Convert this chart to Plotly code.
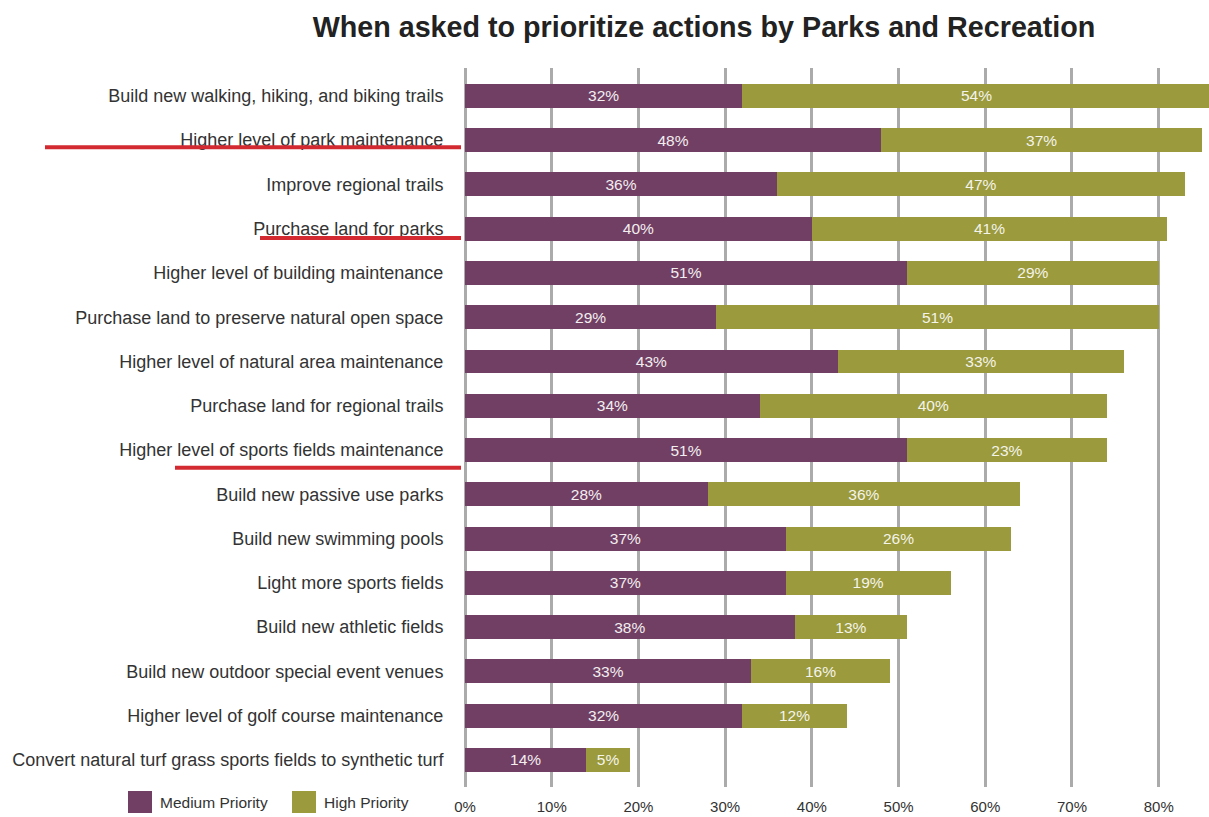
import plotly.graph_objects as go

categories = [
    "Build new walking, hiking, and biking trails",
    "Higher level of park maintenance",
    "Improve regional trails",
    "Purchase land for parks",
    "Higher level of building maintenance",
    "Purchase land to preserve natural open space",
    "Higher level of natural area maintenance",
    "Purchase land for regional trails",
    "Higher level of sports fields maintenance",
    "Build new passive use parks",
    "Build new swimming pools",
    "Light more sports fields",
    "Build new athletic fields",
    "Build new outdoor special event venues",
    "Higher level of golf course maintenance",
    "Convert natural turf grass sports fields to synthetic turf",
]
medium = [32, 48, 36, 40, 51, 29, 43, 34, 51, 28, 37, 37, 38, 33, 32, 14]
high = [54, 37, 47, 41, 29, 51, 33, 40, 23, 36, 26, 19, 13, 16, 12, 5]
tick_vals = [0, 10, 20, 30, 40, 50, 60, 70, 80]
tick_text = ["0%", "10%", "20%", "30%", "40%", "50%", "60%", "70%", "80%"]
underlined = [
    ("Higher level of park maintenance", 45, 0.16),
    ("Purchase land for parks", 260, 0.21),
    ("Higher level of sports fields maintenance", 175, 0.40),
]

PURPLE = "#713F63"
OLIVE = "#9B9A3C"
FONT = "Liberation Sans, Arial, sans-serif"

W, H = 1209, 817
L, R, T, B = 465, 0, 68, 30

fig = go.Figure()
fig.add_trace(go.Bar(
    y=categories, x=medium, orientation="h", name="Medium Priority",
    marker=dict(color=PURPLE, line=dict(width=0)),
    text=[f"{v}%" for v in medium], textposition="inside",
    insidetextanchor="middle", textangle=0,
    textfont=dict(color="#F2EEF0", size=15.5, family=FONT),
))
fig.add_trace(go.Bar(
    y=categories, x=high, orientation="h", name="High Priority",
    marker=dict(color=OLIVE, line=dict(width=0)),
    text=[f"{v}%" for v in high], textposition="inside",
    insidetextanchor="middle", textangle=0,
    textfont=dict(color="#F4F4EA", size=15.5, family=FONT),
))

plot_w = W - L - R
plot_h = H - T - B


def px_x(p):
    return (p - L) / plot_w


def px_y(p):
    return (H - B - p) / plot_h


shapes = []
annotations = []
# red underline marks
for cat, x0px, off in underlined:
    idx = categories.index(cat)
    shapes.append(dict(
        type="line", xref="paper", yref="y",
        x0=px_x(x0px), x1=px_x(461), y0=idx + off, y1=idx + off,
        line=dict(color="#D22A30", width=4), layer="above",
    ))

# custom legend (large squares)
legend_items = [("Medium Priority", PURPLE, 128), ("High Priority", OLIVE, 292)]
for name, col, x0 in legend_items:
    shapes.append(dict(
        type="rect", xref="paper", yref="paper",
        x0=px_x(x0), x1=px_x(x0 + 24), y0=px_y(813), y1=px_y(791),
        fillcolor=col, line=dict(width=0),
    ))
    annotations.append(dict(
        text=name, xref="paper", yref="paper", x=px_x(x0 + 30), y=px_y(802),
        xanchor="left", yanchor="middle", showarrow=False,
        font=dict(size=15.5, color="#333333", family=FONT),
    ))

fig.update_layout(
    width=W, height=H,
    margin=dict(l=L, r=R, t=T, b=B, pad=0, autoexpand=False),
    barmode="stack", bargap=0.46,
    paper_bgcolor="white", plot_bgcolor="white",
    showlegend=False,
    title=dict(
        text="<b>When asked to prioritize actions by Parks and Recreation</b>",
        x=704 / W, xanchor="center", xref="container",
        y=1 - 27 / H, yanchor="middle", yref="container",
        font=dict(size=28.7, color="#222222", family=FONT),
    ),
    xaxis=dict(
        range=[0, 85.8], tickvals=tick_vals, ticktext=tick_text,
        showgrid=True, gridcolor="#ABABAB", gridwidth=3,
        zeroline=True, zerolinecolor="#ABABAB", zerolinewidth=3,
        showline=False, ticks="outside", ticklen=6, tickcolor="rgba(0,0,0,0)",
        tickfont=dict(size=15, color="#333333", family=FONT),
        fixedrange=True, automargin=False,
    ),
    yaxis=dict(
        categoryorder="array", categoryarray=categories,
        range=[15.61, -0.63], showgrid=False, zeroline=False, showline=False,
        ticks="outside", ticklen=17, tickcolor="rgba(0,0,0,0)",
        tickfont=dict(size=18, color="#333333", family=FONT),
        fixedrange=True, automargin=False,
    ),
    shapes=shapes, annotations=annotations,
    uniformtext=dict(mode=False),
)

fig.write_html("out.html")
